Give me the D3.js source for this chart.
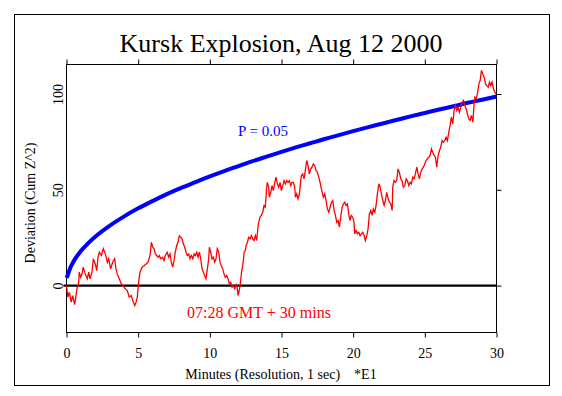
<!DOCTYPE html>
<html><head><meta charset="utf-8">
<script src="https://cdn.jsdelivr.net/npm/d3@7"></script>
<style>body{margin:0;background:#fff}svg{display:block}text{font-family:"Liberation Serif","Times New Roman",serif}</style>
</head><body><svg id="c" width="562" height="396"></svg>
<script>
const title = "Kursk Explosion, Aug 12 2000";
const xLabel = "Minutes (Resolution, 1 sec)    *E1";
const yLabel = "Deviation (Cum Z^2)";
const envLabel = "P = 0.05";
const eventLabel = "07:28 GMT + 30 mins";
const xTicks = [0,5,10,15,20,25,30];
const yTicks = [0,50,100];

// P = 0.05 envelope (minutes, value)
const envT = [0,0.1,0.25,0.5,1,1.5,2,3,4,5,6,7,8,9,10,11,12,13,14,15,16,17,18,19,20,21,22,23,24,25,26,27,28,29,30];
const envV = [4,5.7,9,12.7,18,22,25.5,31.2,36,40.3,44.1,47.7,51,54,57,59.8,62.4,65,67.4,69.8,72.1,74.3,76.5,78.5,80.6,82.6,84.5,86.4,88.3,90.1,91.9,93.6,95.4,97,98.7];

// cumulative deviation (minutes, value)
const devT = [0,0.10,0.20,0.33,0.43,0.57,0.66,0.75,0.85,0.89,0.99,1.08,1.17,1.27,1.36,1.45,1.55,1.64,1.78,1.87,2.01,2.11,2.20,2.29,2.43,2.57,2.71,2.85,2.94,3.08,3.22,3.36,3.45,3.54,3.68,3.82,3.96,4.10,4.24,4.38,4.52,4.62,4.76,4.85,4.94,5.04,5.13,5.27,5.41,5.55,5.69,5.83,5.92,6.02,6.11,6.20,6.29,6.39,6.48,6.57,6.71,6.80,6.89,7.03,7.13,7.22,7.31,7.41,7.50,7.59,7.69,7.78,7.87,7.97,8.06,8.15,8.25,8.34,8.43,8.53,8.62,8.71,8.81,8.90,8.99,9.09,9.18,9.27,9.36,9.46,9.55,9.64,9.73,9.83,9.92,9.97,10.06,10.15,10.24,10.34,10.43,10.52,10.62,10.71,10.80,10.90,10.99,11.08,11.18,11.27,11.36,11.46,11.55,11.64,11.74,11.88,11.97,12.04,12.11,12.21,12.34,12.39,12.48,12.53,12.62,12.71,12.81,12.90,12.99,13.08,13.18,13.27,13.36,13.41,13.50,13.59,13.69,13.78,13.87,13.97,14.01,14.11,14.15,14.25,14.34,14.43,14.53,14.62,14.71,14.81,14.90,14.99,15.09,15.18,15.27,15.37,15.46,15.55,15.65,15.74,15.83,15.92,15.97,16.06,16.15,16.25,16.34,16.39,16.48,16.57,16.66,16.76,16.85,16.94,17.04,17.13,17.22,17.32,17.41,17.50,17.60,17.69,17.78,17.92,18.02,18.11,18.20,18.30,18.39,18.48,18.58,18.67,18.76,18.86,18.95,19.04,19.13,19.23,19.32,19.41,19.51,19.60,19.69,19.78,19.87,19.97,20.06,20.11,20.20,20.29,20.39,20.48,20.57,20.67,20.76,20.85,20.95,21.04,21.13,21.23,21.32,21.41,21.51,21.60,21.69,21.79,21.88,21.97,22.07,22.16,22.25,22.34,22.44,22.53,22.62,22.72,22.76,22.85,22.94,23.04,23.13,23.22,23.32,23.41,23.50,23.60,23.69,23.78,23.88,23.97,24.06,24.16,24.25,24.34,24.44,24.53,24.62,24.72,24.81,24.90,24.99,25.09,25.18,25.28,25.37,25.46,25.55,25.65,25.74,25.83,25.93,26.02,26.11,26.20,26.29,26.39,26.48,26.57,26.67,26.76,26.85,26.95,27.04,27.13,27.23,27.32,27.41,27.51,27.60,27.69,27.79,27.88,27.97,28.07,28.16,28.25,28.35,28.44,28.49,28.58,28.67,28.77,28.86,28.95,29.04,29.14,29.23,29.32,29.42,29.51,29.60,29.69,29.79,29.88,29.97];
const devV = [0,-6,-3.5,-8.7,-5.2,-10,-5.2,-1,1.7,7,4.3,6,9.6,7,5.2,3.5,7,3.5,7,14,11.3,7.8,14.8,17.4,15.7,19.2,16.5,12.2,14,8.7,12.2,14,8.7,6.1,3.5,0.9,0,-1.7,-2.6,-6,-5.2,-7.8,-10.4,-8.7,-6,2.6,7,9.6,10.4,11.3,12.2,15.7,22.6,20,19.2,16.5,15.7,14.8,15.7,14,14.8,13,15.7,17.4,14.8,16.5,12.2,9.6,13,17.4,20.9,22.6,26,25.2,24.4,21.8,20,17.4,15.7,16.5,14,15.7,14,16.5,15.7,17.4,14.8,17.4,14,8.7,7,5.2,3.5,8.7,14,20,17.4,14,14.8,12.2,14,19.2,17.4,12.2,10.4,8.7,6.1,4.3,5.2,3.5,0.9,1.7,-0.9,0,-1.7,0.9,-5.2,-3,0,6.8,13,17.4,18.3,20.9,22.6,25.2,24.4,26.1,24.4,23.5,26.1,23.5,30.5,33,35.7,36.6,38.3,41.8,40.9,51.3,53.9,51.3,46.1,48.7,52.2,49.6,53.9,56.6,53.1,51.3,53.9,49.6,52.2,54.8,53.1,54.8,53.9,54.8,52.2,53.9,53.9,51.3,46.1,47.9,45.3,47.9,54.8,57.4,58.3,55.7,60,65.3,62.7,58.3,60.9,61.8,63.5,62.7,60,59.2,56.6,53.9,50.5,46.1,47.9,44.4,40,38.3,40.9,43.5,44.4,39.2,36.6,33,33.9,30.5,35.7,40.9,42.6,43.5,41.8,42.6,37.4,33.9,36.6,35.7,33,27,28.7,27,27.8,26.1,27,27.8,26.1,23.5,26.1,29.6,37.4,39.2,36.6,40,38.3,41.8,47.9,53.1,51.3,47.9,44.4,41.8,44.4,48.7,45.3,43.5,42.6,39.2,51.3,54.8,53.9,54.8,60.9,59.2,55.7,54.8,51.3,52.2,55.7,54.8,52.2,53.9,53.1,56.6,55.7,58.3,61.8,58.3,55.7,59.2,60.9,61.8,63.5,65.3,66.2,67,67.9,71.4,69.6,67.9,67,61.8,67.9,70.5,72.2,75.7,74.8,75.7,77.4,75.7,80,83.6,87.9,84.4,91.4,94,91.4,93.1,90.5,93.1,95.7,96.6,94,92.3,89.7,87,86.2,88.8,85.3,94.9,98.3,97.5,100.1,105.3,107,112.3,110.5,108.8,105.3,104.4,103.6,106.2,104.4,106.2,102.7,100.9,100.1];

const svg = d3.select("#c");
const x = d3.scaleLinear().domain([0,30]).range([66.5,496.5]);
const y = d3.scaleLinear().domain([-24.5,115.4]).range([332.5,64.5]);

// outer frame
svg.append("rect").attr("x",14.5).attr("y",14.5).attr("width",535).attr("height",371)
  .attr("fill","none").attr("stroke","#000").attr("stroke-width",1);

// title
svg.append("text").attr("x",281).attr("y",52).attr("text-anchor","middle")
  .attr("font-size",26).text(title);

// plot box
svg.append("rect").attr("x",x(0)).attr("y",y(115.4)).attr("width",x(30)-x(0)).attr("height",y(-24.5)-y(115.4))
  .attr("fill","none").attr("stroke","#000").attr("stroke-width",1);

// axes
const gB = svg.append("g").attr("transform",`translate(0,${y(-24.5)})`)
  .call(d3.axisBottom(x).tickValues(xTicks).tickSize(5).tickSizeOuter(0).tickPadding(3));
gB.select(".domain").remove();
gB.selectAll("text").attr("font-size",14).attr("font-family","Liberation Serif").attr("fill","#000").attr("y",16).attr("dy","0.71em");
const gT = svg.append("g").attr("transform",`translate(0,${y(115.4)})`)
  .call(d3.axisTop(x).tickValues(xTicks).tickSize(5).tickSizeOuter(0).tickFormat(""));
gT.select(".domain").remove();
const gR = svg.append("g").attr("transform",`translate(${x(30)},0)`)
  .call(d3.axisRight(y).tickValues(yTicks).tickSize(5).tickSizeOuter(0).tickFormat(""));
gR.select(".domain").remove();
const gL = svg.append("g").attr("transform",`translate(${x(0)},0)`)
  .call(d3.axisLeft(y).tickValues(yTicks).tickSize(0).tickSizeOuter(0));
gL.select(".domain").remove();
gL.selectAll("text").attr("font-size",14).attr("font-family","Liberation Serif").attr("fill","#000")
  .attr("x",0).attr("dy",0).attr("text-anchor","middle").attr("transform","translate(-4,0) rotate(-90)");
svg.selectAll(".tick line").attr("stroke","#000");

// axis titles
svg.append("text").attr("x",281).attr("y",379).attr("text-anchor","middle").attr("font-size",14)
  .attr("xml:space","preserve").style("white-space","pre").text(xLabel);
svg.append("text").attr("transform",`translate(35,203) rotate(-90)`).attr("text-anchor","middle")
  .attr("font-size",14).text(yLabel);

// zero line
svg.append("line").attr("x1",x(0)-3).attr("x2",x(30)).attr("y1",y(0)).attr("y2",y(0))
  .attr("stroke","#000").attr("stroke-width",2.2);

// envelope
const env = envT.map((t,i)=>[t,envV[i]]);
svg.append("path").datum(env).attr("fill","none").attr("stroke","#0000ff").attr("stroke-width",4)
  .attr("d",d3.line().x(d=>x(d[0])).y(d=>y(d[1])).curve(d3.curveMonotoneX));

// deviation
const dev = devT.map((t,i)=>[t,devV[i]]);
svg.append("path").datum(dev).attr("fill","none").attr("stroke","#ff0000").attr("stroke-width",1.3)
  .attr("d",d3.line().x(d=>x(d[0])).y(d=>y(d[1])));

// labels
svg.append("text").attr("x",263).attr("y",136).attr("text-anchor","middle").attr("font-size",15)
  .attr("fill","#0000ff").text(envLabel);
svg.append("text").attr("x",259).attr("y",318).attr("text-anchor","middle").attr("font-size",16)
  .attr("fill","#ff0000").text(eventLabel);
</script></body></html>
